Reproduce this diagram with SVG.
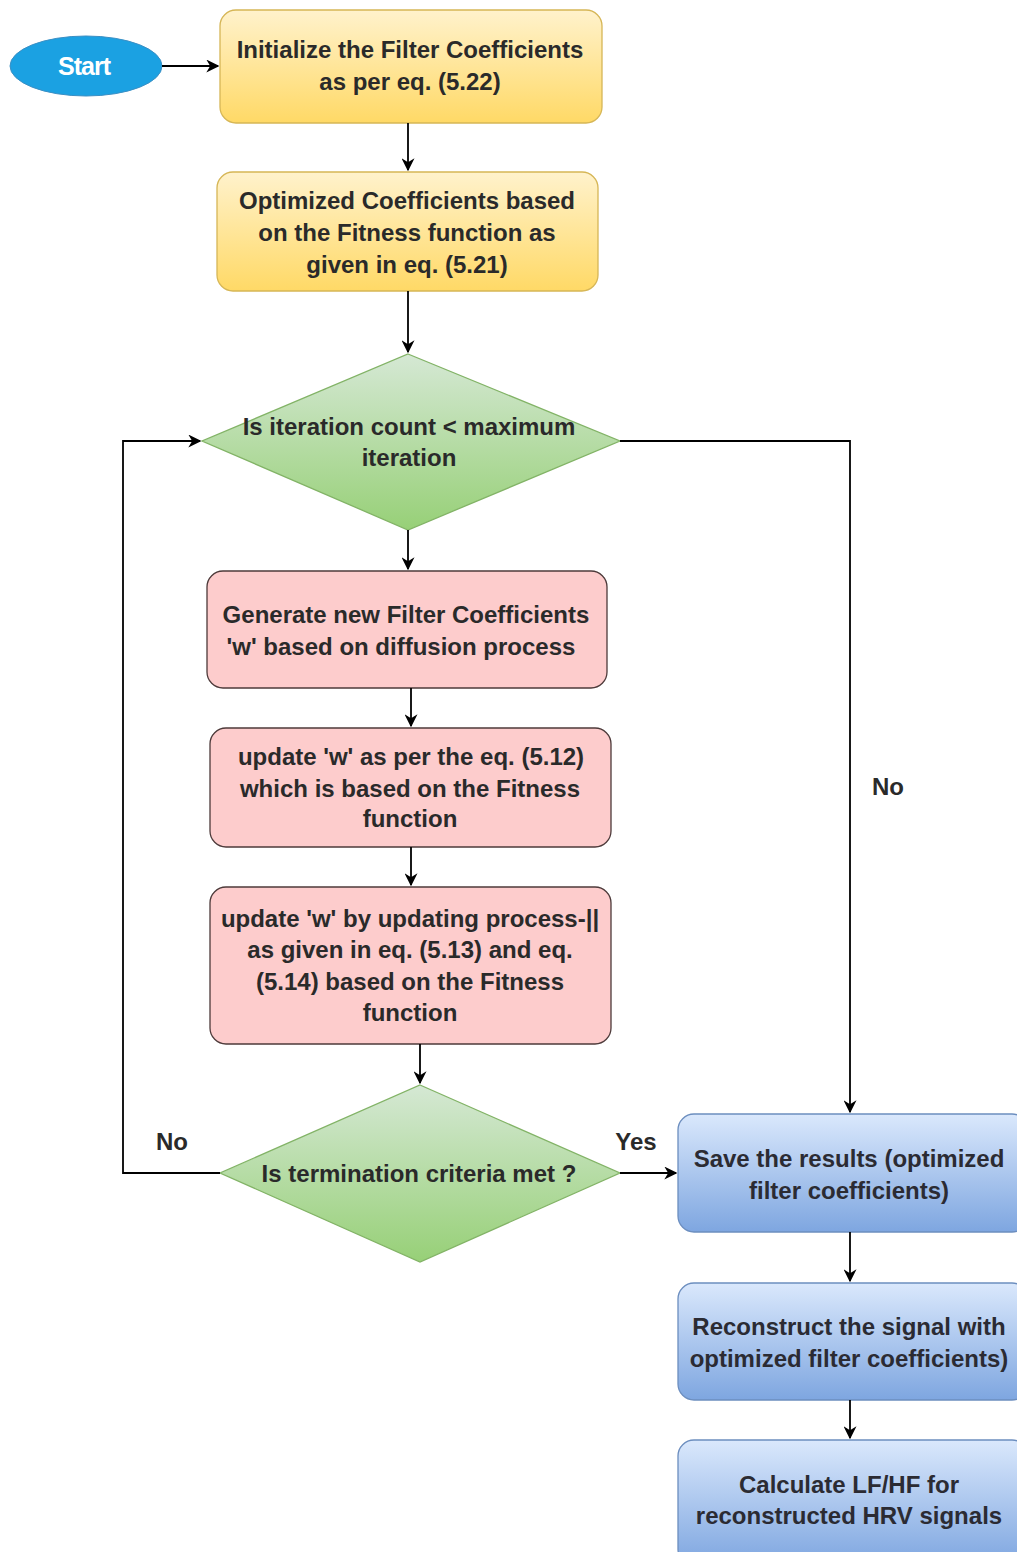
<svg xmlns="http://www.w3.org/2000/svg" width="1017" height="1552" viewBox="0 0 1017 1552">
<defs>
<linearGradient id="gy" x1="0" y1="0" x2="0" y2="1"><stop offset="0" stop-color="#fff2cc"/><stop offset="1" stop-color="#ffd966"/></linearGradient>
<linearGradient id="gg" x1="0" y1="0" x2="0" y2="1"><stop offset="0" stop-color="#d5e8d4"/><stop offset="1" stop-color="#97d077"/></linearGradient>
<linearGradient id="gb" x1="0" y1="0" x2="0" y2="1"><stop offset="0" stop-color="#dae8fc"/><stop offset="1" stop-color="#7ea6e0"/></linearGradient>
<marker id="ah" viewBox="0 0 10 10" refX="9" refY="5" markerWidth="13" markerHeight="13" markerUnits="userSpaceOnUse" orient="auto"><path d="M0,0 L10,5 L0,10 L3,5 Z" fill="#000"/></marker>
</defs>
<style>
text{font-family:"Liberation Sans",Arial,sans-serif;font-size:24px;font-weight:bold;fill:#2a2a2a;text-anchor:middle}
.yel{fill:url(#gy);stroke:#d6b656;stroke-width:1.3}
.pink{fill:#fdcccc;stroke:#4d3a3a;stroke-width:1.3}
.grn{fill:url(#gg);stroke:#82b366;stroke-width:1.3}
.blu{fill:url(#gb);stroke:#6c8ebf;stroke-width:1.3}
.blu-t{fill:#2b2b33}
.c{fill:none;stroke:#000;stroke-width:1.8;marker-end:url(#ah)}
</style>
<rect width="1017" height="1552" fill="#fff"/>
<g id="start">
<ellipse cx="86" cy="66" rx="76" ry="30" fill="#1ba1e2" stroke="#3b8fc4" stroke-width="1"/>
<text x="84" y="75" style="fill:#fff;font-size:25px;letter-spacing:-1px">Start</text>
</g>
<g id="init">
<rect x="220" y="10" width="382" height="113" rx="16" class="yel"/>
<text x="410" y="58">Initialize the Filter Coefficients</text>
<text x="410" y="90">as per eq. (5.22)</text>
</g>
<g id="optimize">
<rect x="217" y="172" width="381" height="119" rx="16" class="yel"/>
<text x="407" y="209">Optimized Coefficients based</text>
<text x="407" y="241">on the Fitness function as</text>
<text x="407" y="273">given in eq. (5.21)</text>
</g>
<g id="iter">
<polygon points="408,354 620,441 408,530 202,441" class="grn"/>
<text x="409" y="435">Is iteration count &lt; maximum</text>
<text x="409" y="466">iteration</text>
</g>
<g id="generate">
<rect x="207" y="571" width="400" height="117" rx="16" class="pink"/>
<text x="406" y="623">Generate new Filter Coefficients</text>
<text x="401" y="655">'w' based on diffusion process</text>
</g>
<g id="update1">
<rect x="210" y="728" width="401" height="119" rx="16" class="pink"/>
<text x="411" y="765">update 'w' as per the eq. (5.12)</text>
<text x="410" y="797">which is based on the Fitness</text>
<text x="410" y="827">function</text>
</g>
<g id="update2">
<rect x="210" y="887" width="401" height="157" rx="16" class="pink"/>
<text x="410" y="927">update 'w' by updating process-||</text>
<text x="410" y="958">as given in eq. (5.13) and eq.</text>
<text x="410" y="990">(5.14) based on the Fitness</text>
<text x="410" y="1021">function</text>
</g>
<g id="term">
<polygon points="420,1085 620,1173 420,1262 220,1173" class="grn"/>
<text x="419" y="1182">Is termination criteria met ?</text>
</g>
<g id="save">
<rect x="678" y="1114" width="350" height="118" rx="16" class="blu"/>
<text x="849" y="1167" class="blu-t">Save the results (optimized</text>
<text x="849" y="1199" class="blu-t">filter coefficients)</text>
</g>
<g id="reconstruct">
<rect x="678" y="1283" width="350" height="117" rx="16" class="blu"/>
<text x="849" y="1335" class="blu-t">Reconstruct the signal with</text>
<text x="849" y="1367" class="blu-t">optimized filter coefficients)</text>
</g>
<g id="calc">
<rect x="678" y="1440" width="350" height="125" rx="16" class="blu"/>
<text x="849" y="1493" class="blu-t">Calculate LF/HF for</text>
<text x="849" y="1524" class="blu-t">reconstructed HRV signals</text>
</g>
<g id="connectors">
<path d="M162,66 H218" class="c"/>
<path d="M408,123 V170" class="c"/>
<path d="M408,291 V352" class="c"/>
<path d="M408,530 V569" class="c"/>
<path d="M411,688 V726" class="c"/>
<path d="M411,847 V885" class="c"/>
<path d="M420,1044 V1083" class="c"/>
<path d="M620,1173 H676" class="c"/>
<path d="M220,1173 H123 V441 H200" class="c"/>
<path d="M620,441 H850 V1112" class="c"/>
<path d="M850,1232 V1281" class="c"/>
<path d="M850,1400 V1438" class="c"/>
<text x="636" y="1150">Yes</text>
<text x="172" y="1150">No</text>
<text x="888" y="795">No</text>
</g>
</svg>
